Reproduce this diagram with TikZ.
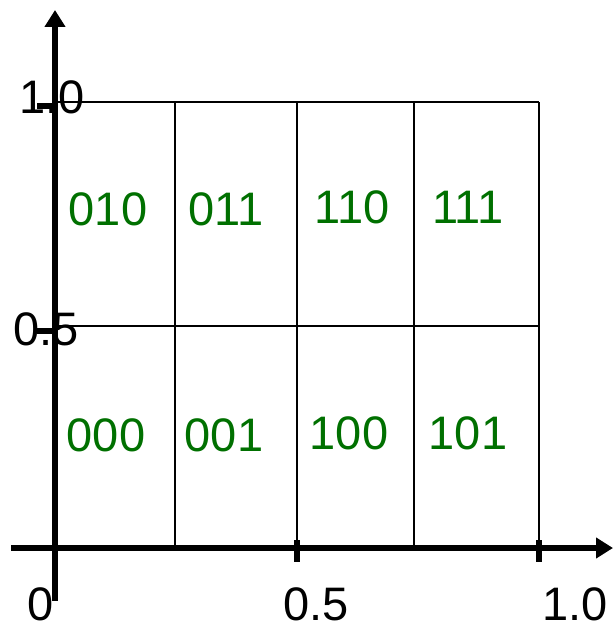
\documentclass[tikz,border=0pt]{standalone}
\usepackage{fontspec}
\setmainfont{Liberation Sans}
\usetikzlibrary{arrows.meta}
\definecolor{codegreen}{RGB}{0,112,0}
\begin{document}
\begin{tikzpicture}[x=1pt,y=-1pt,
  axis/.style={line width=6pt,-{Triangle[length=17pt,width=20pt]}},
  tickmark/.style={line width=6pt},
  gridline/.style={line width=1.6pt},
  axlabel/.style={anchor=base,inner sep=0pt,font=\fontsize{47pt}{50pt}\selectfont},
  code/.style={anchor=base,inner sep=0pt,text=codegreen,font=\fontsize{47pt}{50pt}\selectfont}]
\useasboundingbox (0,0) rectangle (613,626);
% grid
\draw[gridline] (55,102) -- (539,102);
\draw[gridline] (55,326) -- (539,326);
\draw[gridline] (175,102) -- (175,548);
\draw[gridline] (297,102) -- (297,548);
\draw[gridline] (414,102) -- (414,548);
\draw[gridline] (539,102) -- (539,548);
% axes
\coordinate (xs) at (11,548);
\coordinate (xe) at (613,548);
\coordinate (ys) at (55,601);
\coordinate (ye) at (55,10);
\draw[axis] (xs) -- (xe);
\draw[axis] (ys) -- (ye);
% ticks
\draw[tickmark] (297,540) -- (297,562);
\draw[tickmark] (539,540) -- (539,562);
\draw[tickmark] (37,106) -- (55,106);
\draw[tickmark] (37,331) -- (55,331);
% axis labels
\node[axlabel] (ly1) at (52,113) {1.0};
\node[axlabel] (ly5) at (46,345) {0.5};
\node[axlabel] (l0) at (41,620) {0};
\node[axlabel] (lx5) at (316,620) {0.5};
\node[axlabel] (lx1) at (575,620) {1.0};
% codes
\node[code] (c010) at (108,225) {010};
\node[code] (c011) at (226,225) {011};
\node[code] (c110) at (352,223) {110};
\node[code] (c111) at (468,223) {111};
\node[code] (c000) at (106,451) {000};
\node[code] (c001) at (224,451) {001};
\node[code] (c100) at (349,449) {100};
\node[code] (c101) at (468,449) {101};
\end{tikzpicture}
\end{document}
